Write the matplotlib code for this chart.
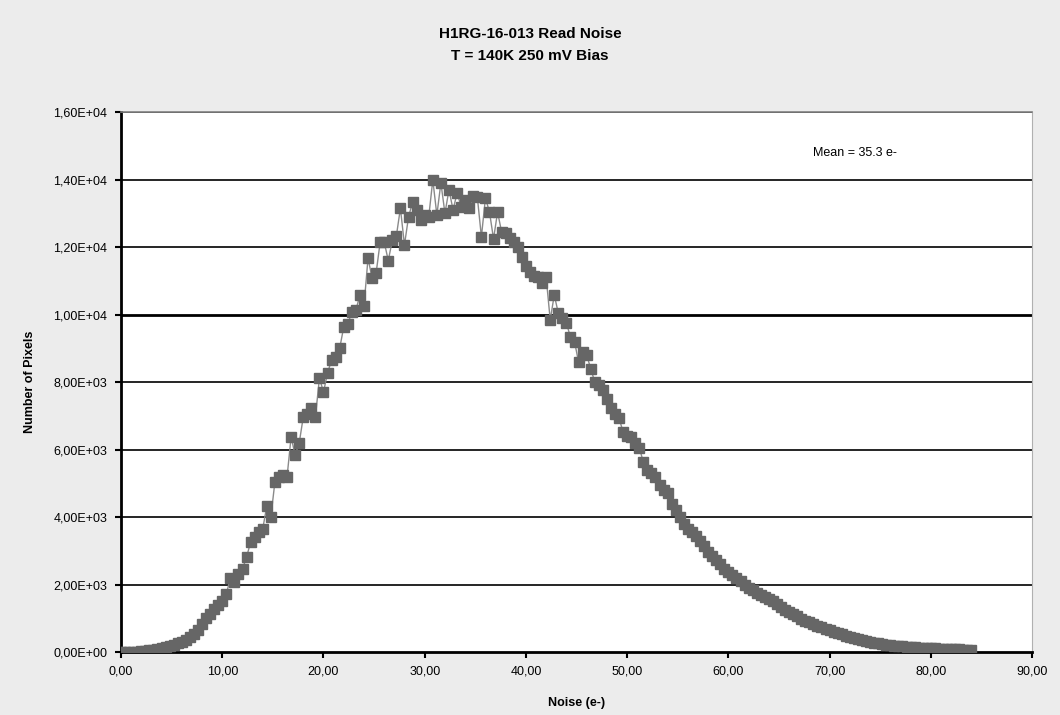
import numpy as np
import matplotlib
matplotlib.use("Agg")
import matplotlib.pyplot as plt
from matplotlib.ticker import FuncFormatter

# read noise histogram, bins of 0.4 e-
bin_width = 0.4
counts = [
    0, 0, 5, 10, 15, 25, 35, 50, 65, 85,
    115, 140, 180, 215, 260, 300, 360, 440, 540, 660,
    830, 1000, 1130, 1260, 1400, 1520, 1720, 2190, 2070, 2300,
    2460, 2810, 3260, 3400, 3560, 3650, 4330, 4000, 5040, 5190,
    5250, 5190, 6370, 5840, 6190, 6960, 7050, 7230, 6960, 8120,
    7700, 8270, 8650, 8740, 9000, 9630, 9720, 10070, 10130, 10580,
    10250, 11670, 11080, 11230, 12150, 12150, 11600, 12200, 12330, 13150,
    12060, 12890, 13330, 13100, 12800, 12950, 12900, 13990, 12950, 13900,
    13000, 13700, 13100, 13600, 13200, 13400, 13150, 13500, 13480, 12300,
    13450, 13040, 12240, 13040, 12440, 12410, 12270, 12150, 12000, 11700,
    11450, 11250, 11130, 11110, 10930, 11100, 9840, 10580, 10040, 9900,
    9750, 9330, 9200, 8590, 8890, 8800, 8400, 8000, 7900, 7760,
    7500, 7230, 7050, 6930, 6520, 6400, 6370, 6200, 6050, 5630,
    5400, 5300, 5190, 4950, 4800, 4710, 4400, 4210, 4000, 3800,
    3650, 3550, 3450, 3300, 3150, 2960, 2850, 2720, 2600, 2450,
    2380, 2280, 2200, 2100, 2000, 1900, 1830, 1750, 1690, 1620,
    1560, 1500, 1420, 1320, 1250, 1180, 1120, 1060, 990, 930,
    880, 830, 780, 730, 680, 640, 600, 560, 520, 480,
    440, 410, 380, 350, 320, 300, 280, 260, 240, 220,
    205, 190, 175, 165, 155, 145, 135, 125, 120, 115,
    110, 105, 100, 95, 90, 85, 80, 75, 70, 65,
    60,
]
noise = np.arange(len(counts)) * bin_width

title = "H1RG-16-013 Read Noise\nT = 140K 250 mV Bias"
mean_label = "Mean = 35.3 e-"

plt.rcParams['font.family'] = ['Liberation Sans', 'DejaVu Sans']

fig = plt.figure(figsize=(10.6, 7.15), dpi=100, facecolor='#ececec')
ax = fig.add_axes([0.1142, 0.0881, 0.8594, 0.7552])
ax.set_facecolor('white')

for yv in range(2000, 16001, 2000):
    lw = 2.0 if yv == 10000 else 1.2
    ax.axhline(yv, color='black', lw=lw, zorder=1)

ax.plot(noise, counts, color='#8a8a8a', lw=1.0, marker='s', ms=6.5,
        mfc='#666666', mec='#666666', zorder=3)

ax.set_xlim(0, 90)
ax.set_ylim(0, 16000)
ax.set_xticks(np.arange(0, 91, 10))
ax.set_yticks(np.arange(0, 16001, 2000))
ax.xaxis.set_major_formatter(FuncFormatter(lambda v, p: f"{v:.2f}".replace('.', ',')))
ax.yaxis.set_major_formatter(FuncFormatter(
    lambda v, p: f"{v:.2E}".replace('.', ',')))
ax.tick_params(axis='both', direction='out', length=4, width=1.5,
               labelsize=9, colors='black', pad=6)

ax.spines['left'].set_linewidth(2)
ax.spines['bottom'].set_linewidth(2)
ax.spines['top'].set_color('#808080')
ax.spines['top'].set_linewidth(1.2)
ax.spines['right'].set_color('#b0b0b0')
ax.spines['right'].set_linewidth(0.8)

ax.set_xlabel("Noise (e-)", fontsize=9, fontweight='bold', labelpad=14)
ax.set_ylabel("Number of Pixels", fontsize=9, fontweight='bold', labelpad=12)
fig.suptitle(title, fontsize=11, fontweight='bold', y=0.962, linespacing=1.75)

ax.text(68.4, 14800, mean_label, fontsize=9, va='center', ha='left')

fig.savefig("out.png", dpi=100, facecolor=fig.get_facecolor())
